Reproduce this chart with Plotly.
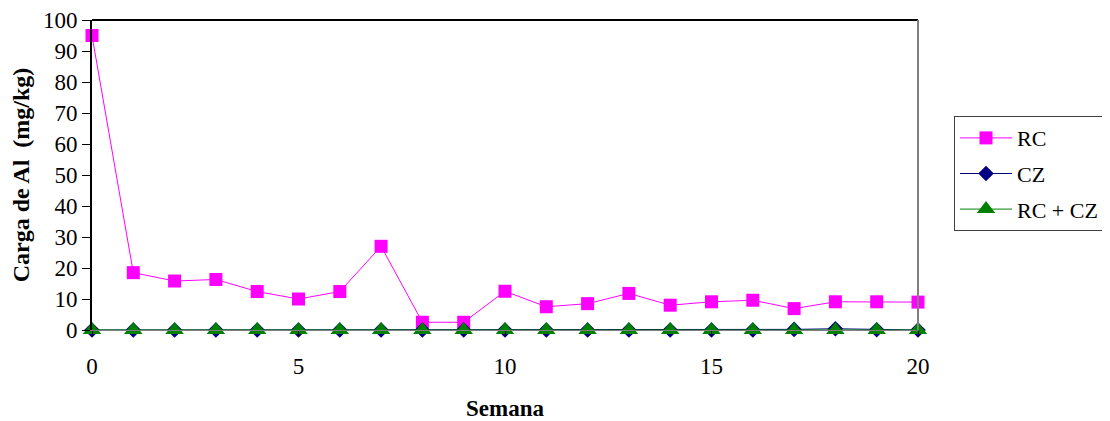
import plotly.graph_objects as go

weeks = list(range(0, 21))
rc = [95, 18.5, 15.8, 16.3, 12.4, 10.0, 12.4, 27.0, 2.5, 2.5, 12.5, 7.5, 8.5, 11.8, 8.0, 9.1, 9.6, 6.9, 9.1, 9.1, 9.0]
cz = [0, 0, 0, 0, 0, 0, 0, 0, 0, 0, 0, 0, 0, 0, 0, 0, 0, 0.2, 0.4, 0.1, 0]
rc_cz = [0] * 21

x_ticks = [0, 5, 10, 15, 20]
y_ticks = list(range(0, 101, 10))

FONT = "Liberation Serif, Times New Roman, serif"
FS = 23

fig = go.Figure()
fig.add_trace(go.Scatter(
    x=weeks, y=rc, name="RC", mode="lines+markers", legendgroup="a",
    line=dict(color="#FF00FF", width=1),
    marker=dict(symbol="square", size=13, color="#FF00FF"),
    cliponaxis=False,
))
fig.add_trace(go.Scatter(
    x=weeks, y=cz, name="CZ", mode="lines+markers", legendgroup="b",
    line=dict(color="#000080", width=1),
    marker=dict(symbol="diamond", size=12, color="#000080"),
    cliponaxis=False,
))
fig.add_trace(go.Scatter(
    x=weeks, y=rc_cz, name="RC + CZ", mode="lines+markers", legendgroup="c",
    line=dict(color="#008000", width=1),
    marker=dict(symbol="triangle-up", size=16, color="#008000"),
    cliponaxis=False,
))

fig.update_layout(
    width=1110, height=421,
    margin=dict(l=84, r=200, t=12, b=99, autoexpand=False),
    paper_bgcolor="white", plot_bgcolor="white",
    font=dict(family=FONT, size=FS, color="black"),
    showlegend=True,
    legend=dict(
        x=1.0436, y=0.69, xanchor="left", yanchor="top",
        bordercolor="#404040", borderwidth=1, bgcolor="white",
        font=dict(family=FONT, size=22, color="black"),
        itemwidth=52, tracegroupgap=4,
        traceorder="grouped",
    ),
    xaxis=dict(
        range=[0, 20], tickvals=x_ticks, ticktext=[str(v) for v in x_ticks],
        showgrid=False, zeroline=False, automargin=False,
        showline=True, linecolor="#808080", linewidth=1,
        ticks="outside", ticklen=5, tickcolor="black",
        ticklabelstandoff=10,
        tickfont=dict(family=FONT, size=FS),
        title=dict(text="<b>Semana</b>", font=dict(family=FONT, size=23), standoff=22),
    ),
    yaxis=dict(
        range=[0, 100], tickvals=y_ticks, ticktext=[str(v) for v in y_ticks],
        showgrid=False, zeroline=False, automargin=False,
        showline=True, linecolor="black", linewidth=2,
        ticks="outside", ticklen=8, tickcolor="black", tickwidth=1,
        ticklabeloverflow="allow",
        tickfont=dict(family=FONT, size=FS),
        title=dict(text="<b>Carga de Al\u00a0\u00a0(mg/kg)</b>", font=dict(family=FONT, size=24), standoff=12),
    ),
    shapes=[
        dict(type="line", xref="paper", yref="paper", x0=0, x1=1, y0=1, y1=1,
             line=dict(color="black", width=2)),
        dict(type="line", xref="paper", yref="paper", x0=1, x1=1, y0=0, y1=1,
             line=dict(color="#808080", width=2)),
    ],
)

fig.write_html("out.html")
